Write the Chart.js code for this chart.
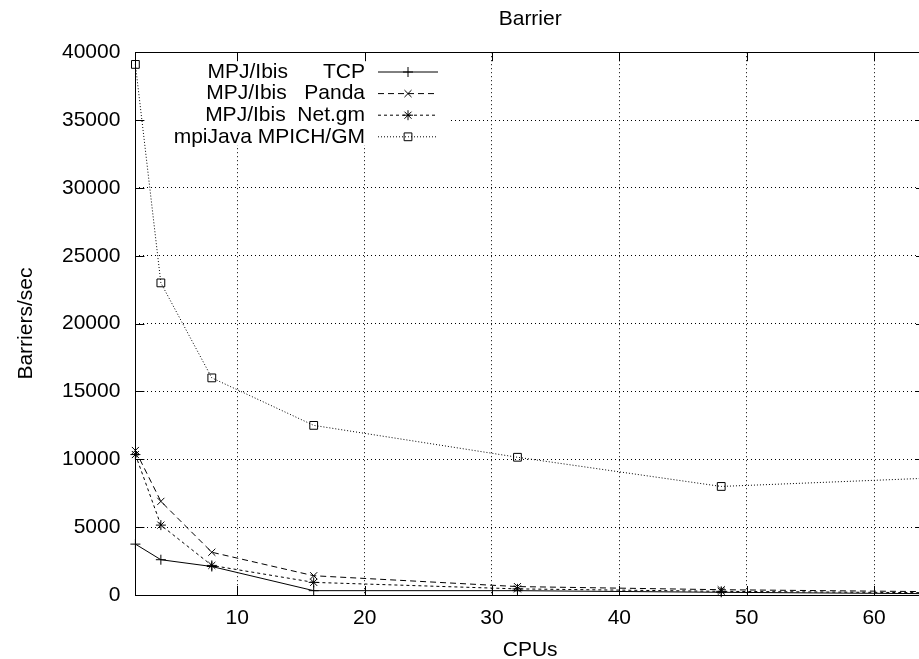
<!DOCTYPE html>
<html lang="en">

<head>
    <meta charset="UTF-8">
    <title>Barrier</title>
    <style>
        html, body { margin: 0; padding: 0; background: #fff; overflow: hidden; }
        #wrap { position: absolute; left: 0; top: 0; width: 940px; height: 659px; }
    </style>
</head>

<body>
    <div id="wrap"><canvas id="chart"></canvas></div>

    <script src="https://cdn.jsdelivr.net/npm/chart.js@4/dist/chart.umd.min.js"></script>

    <script>
        // data
        var cpus = [2, 4, 8, 16, 32, 48, 64];
        var ibisTcp = [3750, 2600, 2100, 320, 320, 200, 100];
        var ibisPanda = [10650, 6900, 3150, 1420, 620, 390, 250];
        var ibisNetgm = [10350, 5150, 2180, 930, 450, 270, 170];
        var mpiJavaGm = [39100, 23000, 16000, 12500, 10150, 8000, 8600];

        var seriesNames = ['MPJ/Ibis      TCP', 'MPJ/Ibis   Panda', 'MPJ/Ibis  Net.gm', 'mpiJava MPICH/GM'];
        var xTicks = [10, 20, 30, 40, 50, 60];
        var yTicks = [0, 5000, 10000, 15000, 20000, 25000, 30000, 35000, 40000];

        var FONT = "'Liberation Sans', Arial, Helvetica, sans-serif";

        function pts(ys) {
            return cpus.map(function (x, i) { return { x: x, y: ys[i] }; });
        }

        function series(label, ys, dash, style, r) {
            return {
                label: label,
                data: pts(ys),
                borderColor: '#000',
                borderWidth: 1,
                borderDash: dash,
                pointStyle: style,
                pointRadius: r,
                pointBorderColor: '#000',
                pointBackgroundColor: 'rgba(0,0,0,0)',
                pointBorderWidth: 1,
                tension: 0,
                clip: false
            };
        }

        // gnuplot-like key: white box, right aligned text, sample line and marker
        var keyPlugin = {
            id: 'gnuKey',
            beforeDatasetsDraw: function (chart) {
                var ctx = chart.ctx;
                ctx.save();
                ctx.fillStyle = '#fff';
                ctx.fillRect(144, 53, 306, 92);
                ctx.restore();
            },
            afterDatasetsDraw: function (chart) {
                var ctx = chart.ctx;
                ctx.save();
                ctx.font = '21px ' + FONT;
                ctx.textAlign = 'right';
                ctx.textBaseline = 'middle';
                chart.data.datasets.forEach(function (ds, i) {
                    var y = 72 + i * 21.6;
                    ctx.fillStyle = '#000';
                    ctx.fillText(ds.label, 365, y);
                    ctx.beginPath();
                    ctx.setLineDash(ds.borderDash);
                    ctx.strokeStyle = '#000';
                    ctx.lineWidth = 1;
                    ctx.moveTo(378, y);
                    ctx.lineTo(438, y);
                    ctx.stroke();
                    ctx.setLineDash([]);
                    ctx.fillStyle = 'rgba(0,0,0,0)';
                    Chart.helpers.drawPoint(ctx, {
                        pointStyle: ds.pointStyle,
                        radius: ds.pointRadius,
                        rotation: 0,
                        borderWidth: 1
                    }, 408, y);
                });
                ctx.restore();
            },
            afterDraw: function (chart) {
                // border with inward ticks on all sides
                var a = chart.chartArea, ctx = chart.ctx;
                var xs = chart.scales.x, ys = chart.scales.y;
                ctx.save();
                ctx.strokeStyle = '#000';
                ctx.lineWidth = 1;
                ctx.setLineDash([]);
                ctx.strokeRect(Math.round(a.left) + 0.5, Math.round(a.top) + 0.5,
                    Math.round(a.right - a.left), Math.round(a.bottom - a.top));
                ctx.beginPath();
                xTicks.forEach(function (v) {
                    var px = Math.round(xs.getPixelForValue(v)) + 0.5;
                    ctx.moveTo(px, a.bottom); ctx.lineTo(px, a.bottom - 9);
                    ctx.moveTo(px, a.top); ctx.lineTo(px, a.top + 9);
                });
                yTicks.forEach(function (v) {
                    var py = Math.round(ys.getPixelForValue(v)) + 0.5;
                    ctx.moveTo(a.left, py); ctx.lineTo(a.left + 9, py);
                    ctx.moveTo(a.right, py); ctx.lineTo(a.right - 9, py);
                });
                ctx.stroke();
                ctx.restore();
            }
        };

        var ctx = document.getElementById('chart');

        new Chart(ctx, {
            type: 'line',
            data: {
                datasets: [
                    series(seriesNames[0], ibisTcp, [], 'cross', 5),
                    series(seriesNames[1], ibisPanda, [6, 4], 'crossRot', 5),
                    series(seriesNames[2], ibisNetgm, [3, 3], 'star', 5),
                    series(seriesNames[3], mpiJavaGm, [1, 2], 'rect', 5.5)
                ]
            },
            plugins: [keyPlugin],
            options: {
                responsive: true,
                maintainAspectRatio: false,
                animation: false,
                devicePixelRatio: 1,
                layout: { padding: { left: 0, right: 15, top: 0, bottom: 0 } },
                plugins: {
                    legend: { display: false },
                    tooltip: { enabled: false },
                    title: {
                        display: true,
                        fullSize: false,
                        text: 'Barrier',
                        color: '#000',
                        font: { family: FONT, size: 21, weight: 'normal', lineHeight: 1.2 },
                        padding: { top: 7, bottom: 20 }
                    }
                },
                scales: {
                    x: {
                        type: 'linear',
                        min: 2,
                        max: 64,
                        afterBuildTicks: function (axis) {
                            axis.ticks = xTicks.map(function (v) { return { value: v }; });
                        },
                        grid: { color: '#000', lineWidth: 1, drawTicks: false },
                        border: { display: false, dash: [1, 3] },
                        ticks: {
                            color: '#000',
                            padding: 11,
                            maxRotation: 0,
                            font: { family: FONT, size: 21 }
                        },
                        title: {
                            display: true,
                            text: 'CPUs',
                            color: '#000',
                            font: { family: FONT, size: 21, lineHeight: 0.8 },
                            padding: { top: 0, bottom: 0 }
                        }
                    },
                    y: {
                        type: 'linear',
                        min: 0,
                        max: 40000,
                        afterBuildTicks: function (axis) {
                            axis.ticks = yTicks.map(function (v) { return { value: v }; });
                        },
                        grid: { color: '#000', lineWidth: 1, drawTicks: false },
                        border: { display: false, dash: [1, 3] },
                        ticks: {
                            color: '#000',
                            padding: 15,
                            font: { family: FONT, size: 21 },
                            callback: function (v) { return String(v); }
                        },
                        title: {
                            display: true,
                            text: 'Barriers/sec',
                            color: '#000',
                            font: { family: FONT, size: 21, lineHeight: 1 },
                            padding: { top: 15.5, bottom: 10.5 }
                        }
                    }
                }
            }
        });
    </script>
</body>

</html>
